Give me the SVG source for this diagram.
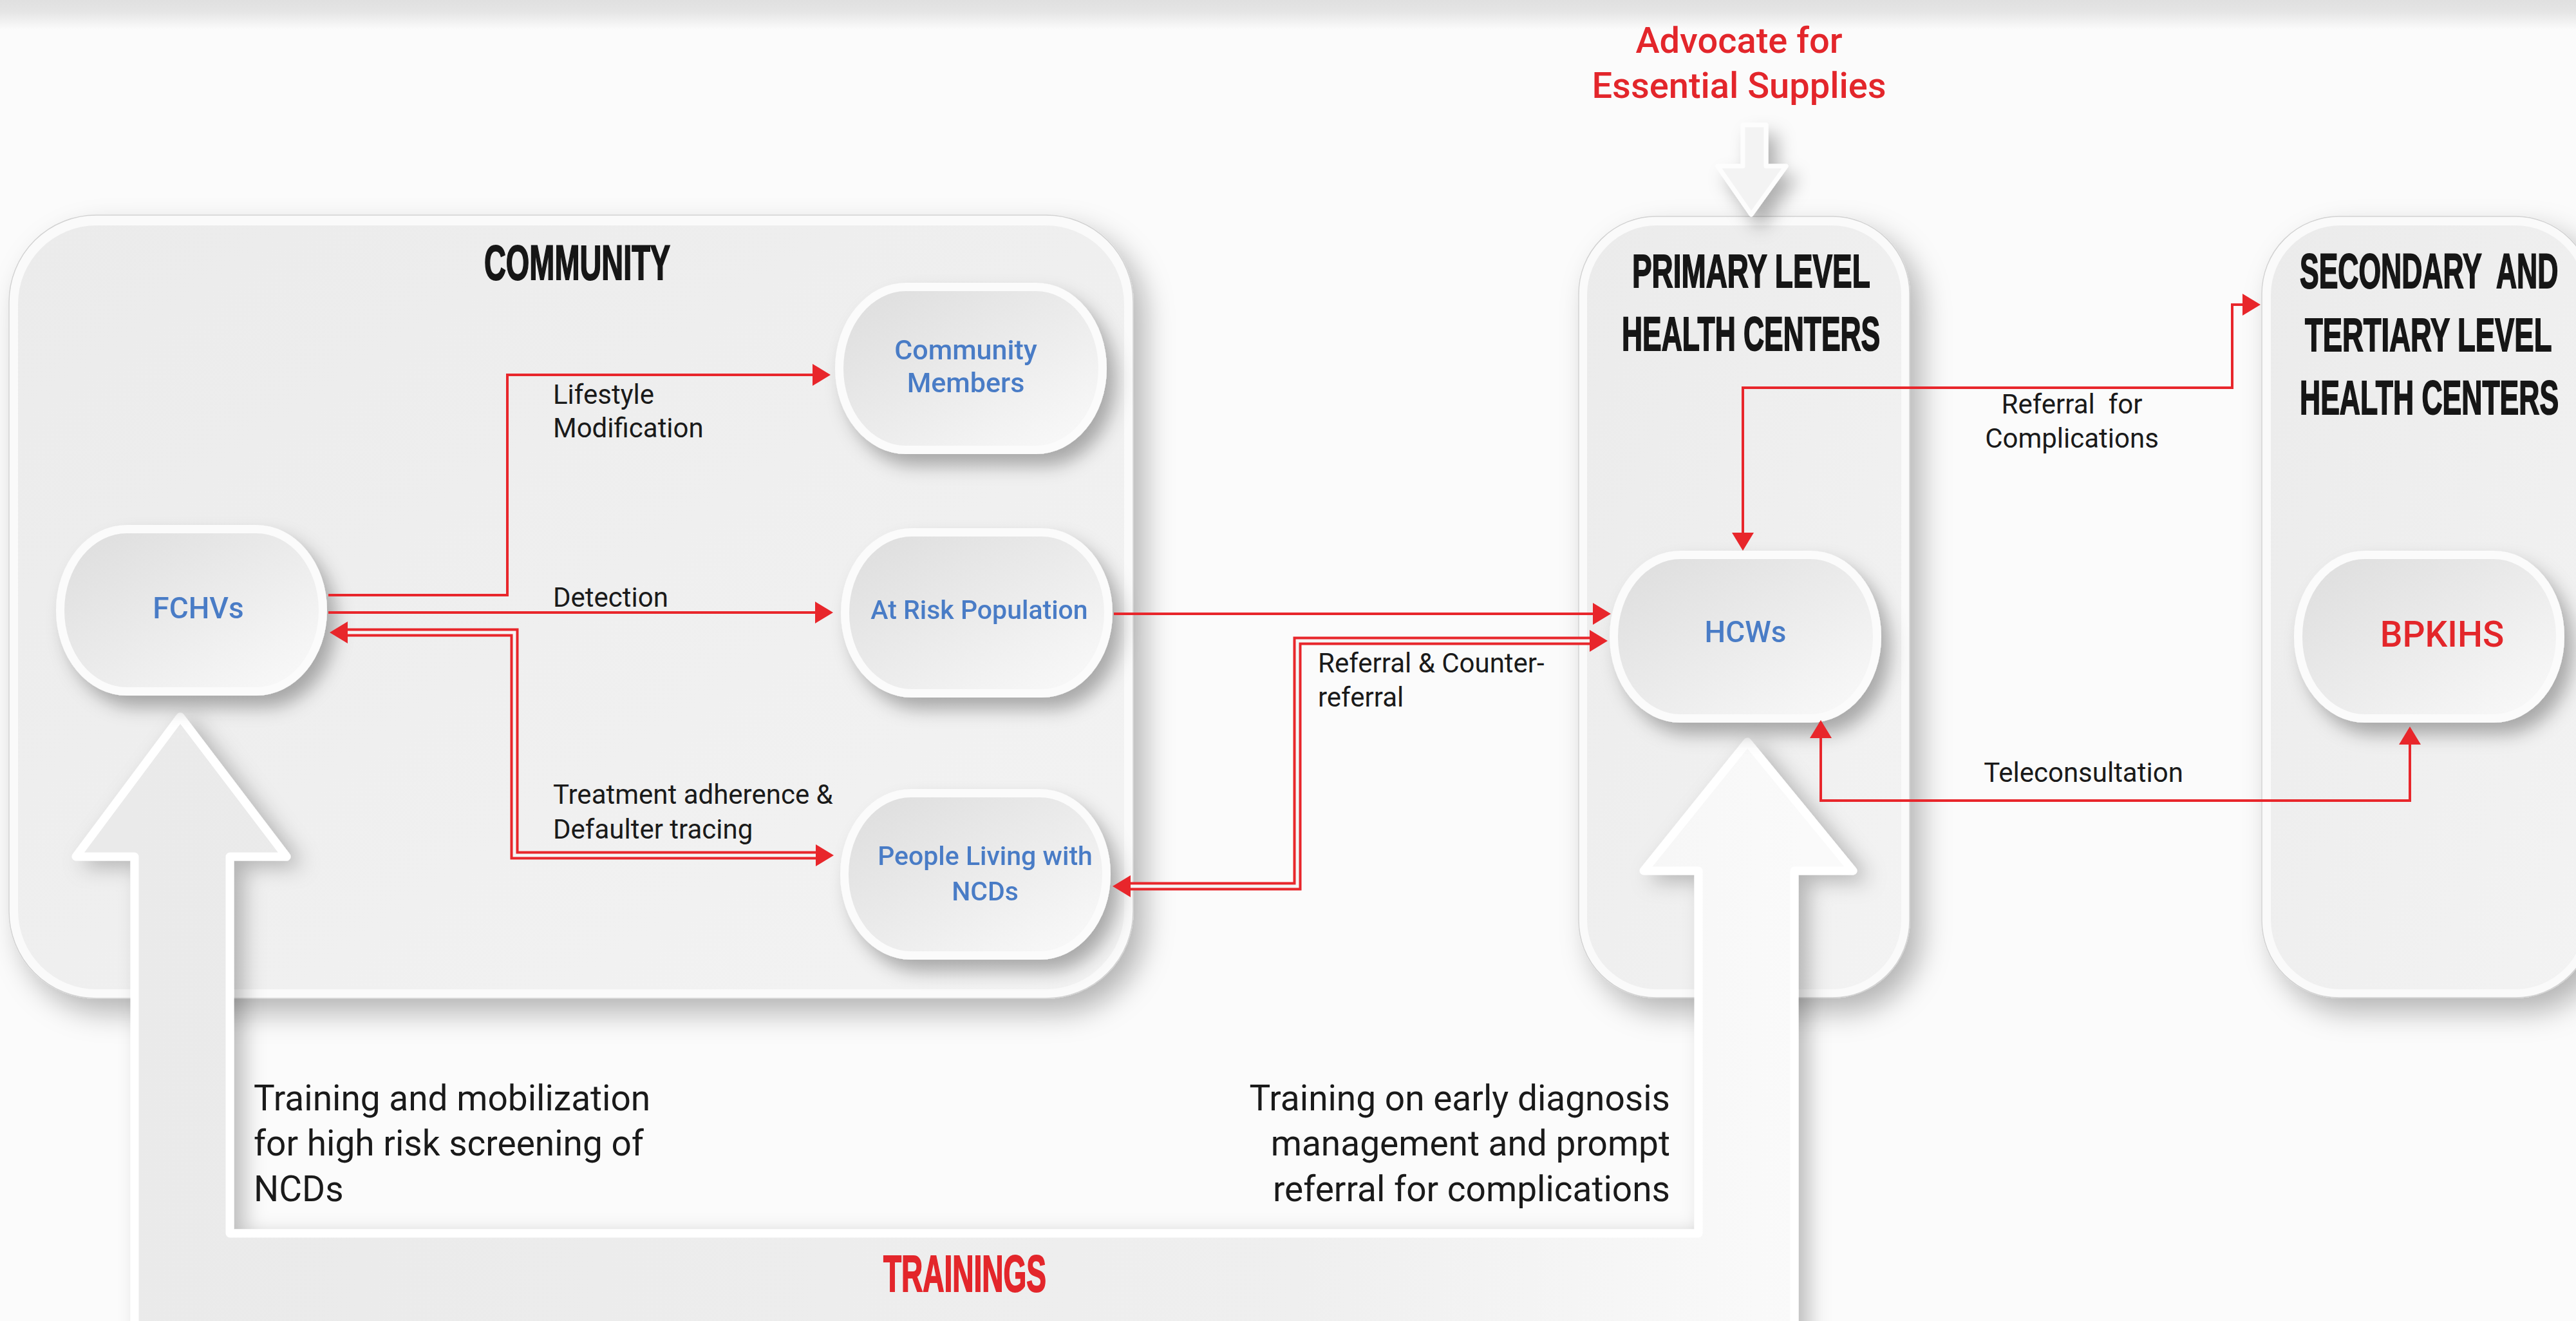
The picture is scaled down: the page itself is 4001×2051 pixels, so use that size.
<svg xmlns="http://www.w3.org/2000/svg" width="4001" height="2051" viewBox="0 0 4001 2051">
  <defs>
    <style>
      .hd { font-family: "Liberation Sans", Arial, sans-serif; font-weight: bold; fill: #161616; stroke: #161616; stroke-width: 1.2; white-space: pre; }
      .hd-red { fill: #e3262b; stroke: #e3262b; }
      .nd { font-family: Roboto, "Liberation Sans", Arial, sans-serif; font-weight: 500; fill: #4a7cc6; text-anchor: middle; }
      .nd-red { fill: #e3262b; }
      .lb { font-family: Roboto, "Liberation Sans", Arial, sans-serif; font-size: 42px; fill: #1a1a1a; white-space: pre; }
      .lb-mid { text-anchor: middle; }
      .tr { font-family: Roboto, "Liberation Sans", Arial, sans-serif; font-size: 55px; fill: #1a1a1a; }
      .adv { font-family: Roboto, "Liberation Sans", Arial, sans-serif; font-weight: 500; font-size: 56px; fill: #e3262b; text-anchor: middle; }
      .box-rim { fill: #fafafa; stroke: #d2d2d2; stroke-width: 1.5; }
      .box-core { fill: url(#panelFill); }
      .pill-rim { fill: #fbfbfb; }
      .pill-core { fill: url(#pillFill); }
      .wire { fill: none; stroke: #e8262b; stroke-width: 4; }
      .twin { fill: none; stroke: #e8262b; stroke-width: 13; }
      .twin-gap { fill: none; stroke: #f5f5f5; stroke-width: 5; }
    </style>
    <linearGradient id="topBand" x1="0" y1="0" x2="0" y2="1">
      <stop offset="0" stop-color="#e0e0e0"/>
      <stop offset="0.4" stop-color="#e5e5e5"/>
      <stop offset="1" stop-color="#fbfbfb"/>
    </linearGradient>
    <linearGradient id="panelFill" x1="0" y1="0" x2="1" y2="1">
      <stop offset="0" stop-color="#ebebeb"/>
      <stop offset="1" stop-color="#f3f3f3"/>
    </linearGradient>
    <linearGradient id="pillFill" x1="0" y1="0" x2="1" y2="1">
      <stop offset="0" stop-color="#dddddd"/>
      <stop offset="0.6" stop-color="#eeeeee"/>
      <stop offset="1" stop-color="#fafafa"/>
    </linearGradient>
    <linearGradient id="bandFill" gradientUnits="userSpaceOnUse" x1="200" y1="0" x2="2800" y2="0">
      <stop offset="0" stop-color="#eaeaea"/>
      <stop offset="0.7" stop-color="#efefef"/>
      <stop offset="1" stop-color="#fafafa"/>
    </linearGradient>
    <filter id="boxShadow" x="-15%" y="-15%" width="140%" height="140%">
      <feDropShadow dx="18" dy="22" stdDeviation="22" flood-color="#000" flood-opacity="0.28"/>
    </filter>
    <filter id="pillShadow" x="-25%" y="-25%" width="160%" height="160%">
      <feDropShadow dx="14" dy="18" stdDeviation="14" flood-color="#000" flood-opacity="0.3"/>
    </filter>
    <filter id="bandShadow" x="-10%" y="-10%" width="120%" height="130%">
      <feDropShadow dx="16" dy="10" stdDeviation="16" flood-color="#000" flood-opacity="0.25"/>
    </filter>
    <marker id="head" markerUnits="userSpaceOnUse" viewBox="0 0 28 34" markerWidth="28" markerHeight="34" refX="0" refY="17" orient="auto-start-reverse">
      <path d="M0,0 L28,17 L0,34 Z" fill="#e8262b"/>
    </marker>
  </defs>

  <!-- page -->
  <rect width="4001" height="2051" fill="#fbfbfb"/>
  <rect width="4001" height="46" fill="url(#topBand)"/>

  <!-- level containers -->
  <g id="community" filter="url(#boxShadow)">
    <rect class="box-rim" x="14" y="334" width="1746" height="1216" rx="135"/>
    <rect class="box-core" x="28" y="350" width="1718" height="1186" rx="122"/>
  </g>
  <g id="primary-level" filter="url(#boxShadow)">
    <rect class="box-rim" x="2452" y="336" width="514" height="1213" rx="120"/>
    <rect class="box-core" x="2465" y="350" width="488" height="1186" rx="108"/>
  </g>
  <g id="secondary-tertiary-level" filter="url(#boxShadow)">
    <rect class="box-rim" x="3513" y="336" width="514" height="1213" rx="120"/>
    <rect class="box-core" x="3527" y="350" width="488" height="1186" rx="108"/>
  </g>

  <!-- supplies arrow -->
  <g id="supplies-arrow" filter="url(#pillShadow)">
    <path d="M2707,194 H2743 V258 H2774 L2720,333 L2668,258 H2707 Z" fill="#f3f3f3" stroke="#fdfdfd" stroke-width="7" stroke-linejoin="round"/>
  </g>

  <!-- trainings band: two hollow arrows joined at the bottom -->
  <g id="trainings-band" filter="url(#bandShadow)">
    <path d="M280,1113 L445,1330 L357,1330 L357,1915 L2638,1915 L2638,1352 L2553,1352 L2714,1152 L2878,1352 L2787,1352 L2787,2080 L209,2080 L209,1330 L118,1330 Z" fill="url(#bandFill)" stroke="#ffffff" stroke-width="13" stroke-linejoin="round"/>
  </g>

  <!-- nodes -->
  <g id="node-fchvs" transform="translate(87,815)" filter="url(#pillShadow)">
    <rect class="pill-rim" width="421" height="265" rx="110" ry="132"/>
    <rect class="pill-core" x="13" y="13" width="395" height="239" rx="97" ry="119"/>
    <text class="nd" x="221" y="145" font-size="46">FCHVs</text>
  </g>
  <g id="node-community-members" transform="translate(1297,439)" filter="url(#pillShadow)">
    <rect class="pill-rim" width="422" height="266" rx="110" ry="133"/>
    <rect class="pill-core" x="13" y="13" width="396" height="240" rx="97" ry="120"/>
    <text class="nd" x="203" y="119" font-size="43">Community</text>
    <text class="nd" x="203" y="170" font-size="43">Members</text>
  </g>
  <g id="node-at-risk" transform="translate(1306,820)" filter="url(#pillShadow)">
    <rect class="pill-rim" width="422" height="263" rx="110" ry="131"/>
    <rect class="pill-core" x="13" y="13" width="396" height="237" rx="97" ry="118"/>
    <text class="nd" x="215" y="141" font-size="41">At Risk Population</text>
  </g>
  <g id="node-plwncds" transform="translate(1305,1225)" filter="url(#pillShadow)">
    <rect class="pill-rim" width="420" height="265" rx="110" ry="132"/>
    <rect class="pill-core" x="13" y="13" width="394" height="239" rx="97" ry="119"/>
    <text class="nd" x="225" y="118" font-size="41">People Living with</text>
    <text class="nd" x="225" y="173" font-size="41">NCDs</text>
  </g>
  <g id="node-hcws" transform="translate(2500,855)" filter="url(#pillShadow)">
    <rect class="pill-rim" width="422" height="267" rx="110" ry="133"/>
    <rect class="pill-core" x="13" y="13" width="396" height="241" rx="97" ry="120"/>
    <text class="nd" x="211" y="142" font-size="46">HCWs</text>
  </g>
  <g id="node-bpkihs" transform="translate(3563,855)" filter="url(#pillShadow)">
    <rect class="pill-rim" width="420" height="267" rx="110" ry="133"/>
    <rect class="pill-core" x="13" y="13" width="394" height="241" rx="97" ry="120"/>
    <text class="nd nd-red" x="230" y="149" font-size="55">BPKIHS</text>
  </g>

  <!-- connectors -->
  <g id="connectors">
    <path class="wire" d="M510,924 H788 V582 H1262" marker-end="url(#head)"/>
    <path class="wire" d="M510,951 H1266" marker-end="url(#head)"/>
    <path class="wire" d="M1730,953 H2474" marker-end="url(#head)"/>
    <path class="wire" d="M2707,827 V602 H3467 V473 H3483" marker-start="url(#head)" marker-end="url(#head)"/>
    <path class="wire" d="M2828,1146 V1243 H3743 V1156" marker-start="url(#head)" marker-end="url(#head)"/>
    <path class="twin" d="M540,982 H799 V1328 H1267" marker-start="url(#head)" marker-end="url(#head)"/>
    <path class="twin-gap" d="M540,982 H799 V1328 H1267"/>
    <path class="twin" d="M1756,1376 H2015 V995 H2469" marker-start="url(#head)" marker-end="url(#head)"/>
    <path class="twin-gap" d="M1756,1376 H2015 V995 H2469"/>
  </g>

  <!-- headings: tall condensed capitals, drawn at the target width and stretched upward -->
  <g id="headings">
    <text class="hd" font-size="46.9" transform="translate(752,434) scale(1,1.64)">COMMUNITY</text>
    <text class="hd" font-size="45.9" transform="translate(2535,446) scale(1,1.59)">PRIMARY LEVEL</text>
    <text class="hd" font-size="44.4" transform="translate(2519,544) scale(1,1.66)">HEALTH CENTERS</text>
    <text class="hd" font-size="44.5" transform="translate(3572,447) scale(1,1.72)">SECONDARY  AND</text>
    <text class="hd" font-size="45.4" transform="translate(3580,545) scale(1,1.6)">TERTIARY LEVEL</text>
    <text class="hd" font-size="44.5" transform="translate(3572,643) scale(1,1.66)">HEALTH CENTERS</text>
    <text class="hd hd-red" font-size="46" transform="translate(1372,2005) scale(1,1.73)">TRAININGS</text>
    <text class="adv" x="2701" y="82">Advocate for</text>
    <text class="adv" x="2701" y="152">Essential Supplies</text>
  </g>

  <!-- connector labels -->
  <g id="labels">
    <text class="lb" x="859" y="627">Lifestyle</text>
    <text class="lb" x="859" y="679">Modification</text>
    <text class="lb" x="859" y="942">Detection</text>
    <text class="lb" x="859" y="1248">Treatment adherence &amp;</text>
    <text class="lb" x="859" y="1302">Defaulter tracing</text>
    <text class="lb" x="2047" y="1044">Referral &amp; Counter-</text>
    <text class="lb" x="2047" y="1097">referral</text>
    <text class="lb lb-mid" x="3218" y="642">Referral  for</text>
    <text class="lb lb-mid" x="3218" y="695">Complications</text>
    <text class="lb lb-mid" x="3236" y="1214">Teleconsultation</text>
  </g>

  <!-- training notes -->
  <g id="training-notes">
    <text class="tr" x="394" y="1724">Training and mobilization</text>
    <text class="tr" x="394" y="1794">for high risk screening of</text>
    <text class="tr" x="394" y="1865">NCDs</text>
    <text class="tr" x="2594" y="1724" text-anchor="end">Training on early diagnosis</text>
    <text class="tr" x="2594" y="1794" text-anchor="end">management and prompt</text>
    <text class="tr" x="2594" y="1865" text-anchor="end">referral for complications</text>
  </g>
</svg>
